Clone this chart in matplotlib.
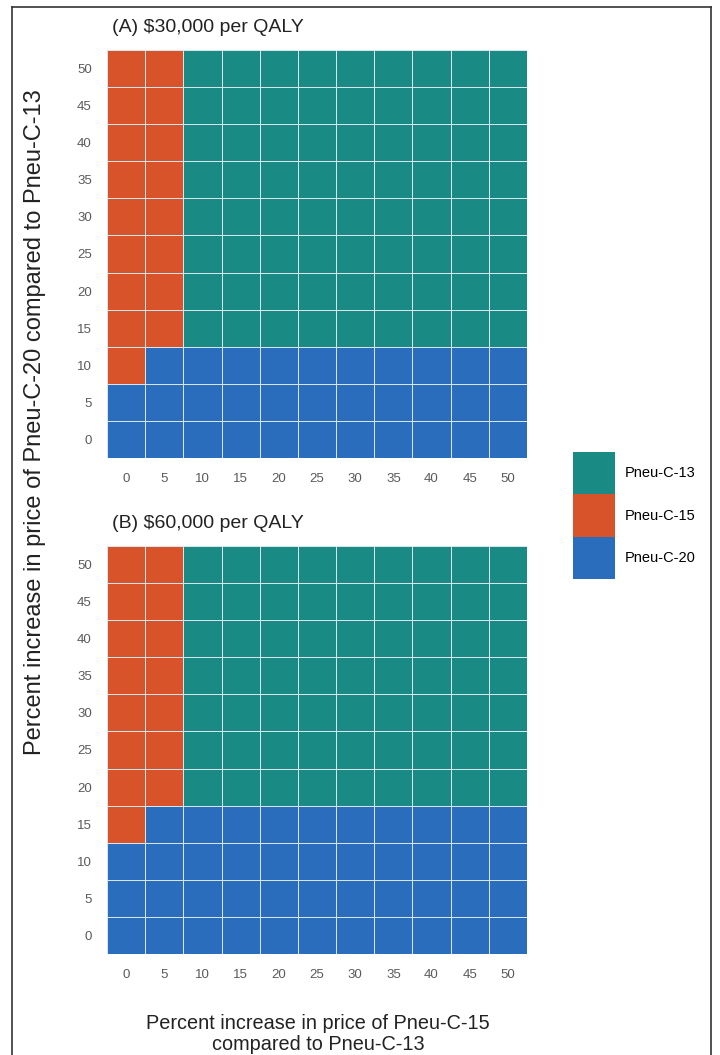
import numpy as np
import matplotlib
matplotlib.use("Agg")
import matplotlib.pyplot as plt
from matplotlib.colors import ListedColormap
from matplotlib.patches import Patch
from matplotlib.lines import Line2D

plt.rcParams['font.family'] = ['Liberation Sans', 'DejaVu Sans']

# percent price increase steps (both axes)
pct = [0, 5, 10, 15, 20, 25, 30, 35, 40, 45, 50]
strategies = ['Pneu-C-13', 'Pneu-C-15', 'Pneu-C-20']
colors = ['#1a8a85', '#d9532a', '#2b6dbd']
code = {'T': 0, 'O': 1, 'B': 2}

# optimal strategy, rows from Pneu-C-20 = 50 (top) down to 0
# columns are Pneu-C-15 increase 0..50
grid_30k = [
    "OOTTTTTTTTT",  # 50
    "OOTTTTTTTTT",  # 45
    "OOTTTTTTTTT",  # 40
    "OOTTTTTTTTT",  # 35
    "OOTTTTTTTTT",  # 30
    "OOTTTTTTTTT",  # 25
    "OOTTTTTTTTT",  # 20
    "OOTTTTTTTTT",  # 15
    "OBBBBBBBBBB",  # 10
    "BBBBBBBBBBB",  # 5
    "BBBBBBBBBBB",  # 0
]
grid_60k = [
    "OOTTTTTTTTT",  # 50
    "OOTTTTTTTTT",  # 45
    "OOTTTTTTTTT",  # 40
    "OOTTTTTTTTT",  # 35
    "OOTTTTTTTTT",  # 30
    "OOTTTTTTTTT",  # 25
    "OOTTTTTTTTT",  # 20
    "OBBBBBBBBBB",  # 15
    "BBBBBBBBBBB",  # 10
    "BBBBBBBBBBB",  # 5
    "BBBBBBBBBBB",  # 0
]

W, H = 720, 1055
fig = plt.figure(figsize=(W / 100, H / 100), dpi=100)


def px(x, y):
    return x / W, 1 - y / H


def panel(left, top, right, bottom, rows, title):
    ax = fig.add_axes([left / W, 1 - bottom / H, (right - left) / W, (bottom - top) / H])
    z = np.array([[code[c] for c in r] for r in rows[::-1]])
    step = pct[1] - pct[0]
    edges = np.append(np.array(pct) - step / 2, pct[-1] + step / 2)
    ax.pcolormesh(edges, edges, z, cmap=ListedColormap(colors), vmin=-0.5, vmax=2.5,
                  edgecolors='#d6e6ec', linewidth=0.6)
    ax.set_xticks(pct)
    ax.set_yticks(pct)
    ax.tick_params(length=0, labelsize=9.5, colors='#5a5a5a')
    ax.tick_params(axis='x', pad=11)
    ax.tick_params(axis='y', pad=11)
    for s in ax.spines.values():
        s.set_visible(False)
    fig.text(*px(left + 5, top - 22), title, fontsize=14, va='center', ha='left', color='#222222')
    return ax


panel(107, 50, 527, 458, grid_30k, "(A) $30,000 per QALY")
panel(107, 546, 527, 954, grid_60k, "(B) $60,000 per QALY")

handles = [Patch(facecolor=c, edgecolor='none') for c in colors]
fig.legend(handles, strategies, loc='upper left', bbox_to_anchor=px(573, 452),
           frameon=False, fontsize=10.5, handlelength=2.9, handleheight=4.1,
           labelspacing=0, handletextpad=0.65, borderpad=0, borderaxespad=0)

fig.text(*px(35, 422), "Percent increase in price of Pneu-C-20 compared to Pneu-C-13",
         rotation=90, ha='center', va='center', fontsize=17, color='#222222')
fig.text(*px(318, 1034), "Percent increase in price of Pneu-C-15\ncompared to Pneu-C-13",
         ha='center', va='center', fontsize=14.3, color='#222222', linespacing=1.1)

# frame around figure
for xs, ys in [([12, 12], [7, H]), ([12, 711], [7, 7]), ([711, 711], [7, H])]:
    fig.add_artist(Line2D([x / W for x in xs], [1 - y / H for y in ys],
                          transform=fig.transFigure, color='#333333', lw=1.2))

fig.savefig('out.png', dpi=100)
